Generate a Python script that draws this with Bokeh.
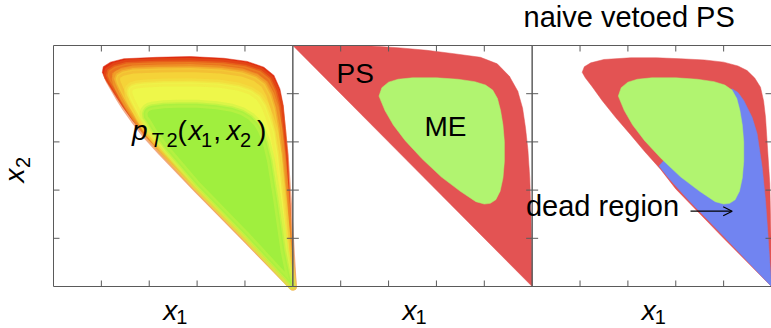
import numpy as np
from bokeh.plotting import figure
from bokeh.models import Arrow, OpenHead
from bokeh.core.properties import value
from bokeh.embed import file_html
from bokeh.resources import INLINE

# ---------------- data (panel-local coordinates, 0..1) ----------------
TICKS = [0.2, 0.4, 0.6, 0.8]
TITLE = "naive vetoed PS"

# outer boundary of the p_T2 region
OUT_X = [1.000, 0.800, 0.600, 0.450, 0.380, 0.330, 0.290, 0.260, 0.235, 0.215, 0.204, 0.208, 0.238,
         0.294, 0.433, 0.572, 0.712, 0.809, 0.879, 0.921, 0.946, 0.960, 0.969, 0.979, 0.988, 0.996]
OUT_Y = [0.000, 0.200, 0.402, 0.555, 0.628, 0.690, 0.745, 0.790, 0.830, 0.862, 0.889, 0.912, 0.931,
         0.945, 0.951, 0.954, 0.947, 0.934, 0.910, 0.876, 0.820, 0.751, 0.654, 0.544, 0.357, 0.149]
# red -> orange contour
ORG_X = [1.000, 0.800, 0.600, 0.452, 0.385, 0.338, 0.300, 0.273, 0.252, 0.235, 0.226, 0.230, 0.255,
         0.305, 0.433, 0.572, 0.708, 0.800, 0.864, 0.903, 0.928, 0.944, 0.955, 0.966, 0.979, 0.991]
ORG_Y = [0.000, 0.203, 0.405, 0.558, 0.631, 0.692, 0.745, 0.788, 0.825, 0.854, 0.876, 0.895, 0.912,
         0.925, 0.930, 0.932, 0.926, 0.914, 0.893, 0.862, 0.810, 0.748, 0.654, 0.544, 0.357, 0.149]
# orange -> yellow contour
YLO_X = [1.000, 0.800, 0.600, 0.455, 0.390, 0.348, 0.315, 0.292, 0.276, 0.265, 0.260, 0.266, 0.288,
         0.330, 0.440, 0.572, 0.700, 0.788, 0.845, 0.882, 0.906, 0.924, 0.940, 0.953, 0.970, 0.986]
YLO_Y = [0.000, 0.206, 0.408, 0.561, 0.635, 0.695, 0.745, 0.785, 0.818, 0.843, 0.862, 0.878, 0.891,
         0.900, 0.905, 0.907, 0.900, 0.888, 0.868, 0.840, 0.796, 0.740, 0.654, 0.544, 0.357, 0.149]
# bright yellow contour
YEL_X = [1.000, 0.800, 0.600, 0.460, 0.398, 0.362, 0.337, 0.322, 0.314, 0.312, 0.316, 0.326, 0.345,
         0.380, 0.460, 0.575, 0.690, 0.772, 0.825, 0.860, 0.884, 0.902, 0.922, 0.938, 0.958, 0.979]
YEL_Y = [0.000, 0.210, 0.413, 0.566, 0.640, 0.698, 0.745, 0.775, 0.796, 0.812, 0.823, 0.832, 0.838,
         0.842, 0.846, 0.848, 0.842, 0.830, 0.812, 0.788, 0.752, 0.705, 0.640, 0.544, 0.357, 0.149]
# green core
GRN_X = [0.995, 0.800, 0.600, 0.468, 0.414, 0.390, 0.378, 0.376, 0.380, 0.388, 0.398, 0.412, 0.430,
         0.460, 0.520, 0.600, 0.680, 0.745, 0.792, 0.826, 0.851, 0.870, 0.890, 0.908, 0.935, 0.965]
GRN_Y = [0.006, 0.216, 0.420, 0.573, 0.645, 0.685, 0.700, 0.718, 0.730, 0.740, 0.746, 0.750, 0.752,
         0.756, 0.758, 0.758, 0.752, 0.742, 0.726, 0.705, 0.680, 0.648, 0.600, 0.525, 0.357, 0.149]

# parton shower region (closed by the x1 + x2 = 1 diagonal)
PS_X = [0.000, 0.300, 0.450, 0.560, 0.673, 0.784, 0.854, 0.905, 0.940, 0.960, 0.972, 0.982, 0.990, 0.995, 0.998, 1.000]
PS_Y = [1.000, 1.000, 0.990, 0.980, 0.966, 0.951, 0.924, 0.872, 0.810, 0.740, 0.660, 0.570, 0.450, 0.300, 0.150, 0.000]

# matrix element region
ME_X = [0.360, 0.372, 0.400, 0.440, 0.500, 0.600, 0.690, 0.760, 0.805, 0.835, 0.855, 0.868, 0.878, 0.884,
        0.884, 0.878, 0.866, 0.848, 0.825, 0.800, 0.765, 0.700, 0.620, 0.540, 0.470, 0.420, 0.385]
ME_Y = [0.790, 0.825, 0.848, 0.860, 0.866, 0.866, 0.860, 0.850, 0.836, 0.815, 0.780, 0.730, 0.670, 0.600,
        0.520, 0.450, 0.395, 0.360, 0.345, 0.342, 0.352, 0.395, 0.455, 0.530, 0.605, 0.670, 0.730]

# naive vetoed PS region (outer boundary)
VETO_X = [1.000, 0.800, 0.600, 0.536, 0.470, 0.411, 0.350, 0.292, 0.250, 0.222, 0.209, 0.218, 0.245, 0.300,
          0.411, 0.520, 0.620, 0.720, 0.800, 0.860, 0.898, 0.930, 0.954, 0.967, 0.975, 0.984, 0.993, 0.998]
VETO_Y = [0.000, 0.200, 0.405, 0.487, 0.560, 0.630, 0.700, 0.772, 0.830, 0.866, 0.889, 0.912, 0.928, 0.942,
          0.949, 0.949, 0.945, 0.940, 0.931, 0.915, 0.896, 0.865, 0.827, 0.770, 0.702, 0.564, 0.426, 0.200]

# dead region (partly hidden under the ME region)
DEAD_X = [0.800, 0.836, 0.860, 0.884, 0.919, 0.940, 0.961, 0.975, 0.985, 0.993, 1.000, 0.800, 0.650, 0.570, 0.530]
DEAD_Y = [0.800, 0.820, 0.805, 0.772, 0.702, 0.634, 0.495, 0.357, 0.219, 0.100, 0.000, 0.208, 0.362, 0.450, 0.500]

# ---------------- styles ----------------
FRAME = "#5a5a5a"
PS_RED = "#e35353"
ME_GREEN = "#b1f470"
DEAD_BLUE = "#7184f1"
GRAD = ["#df2c10", "#ee8a22", "#f5d338", "#eef74a", "#a0ef3e"]
FONT = "Liberation Sans"
BIG = 28
WIDE = 29
SUB = 20
BASELINE_FIX = 0.375   # SVG text sits this fraction of the font size below the requested baseline

W, H = 771, 328
L, T, B = 53, 45, 42              # frame margins of the panels (pixels)
PPU_X = (W - L) / 3.0             # pixels per panel unit, horizontally
PPU_Y = float(H - T - B)          # pixels per panel unit, vertically


def mix(c1, c2):
    a = [int(c1[i:i + 2], 16) for i in (1, 3, 5)]
    b = [int(c2[i:i + 2], 16) for i in (1, 3, 5)]
    return "#%02x%02x%02x" % tuple((x + y) // 2 for x, y in zip(a, b))


p = figure(width=W, height=H,
           x_range=(-L / PPU_X, 3.0), y_range=(-B / PPU_Y, 1.0 + T / PPU_Y),
           output_backend="svg", toolbar_location=None,
           x_axis_type=None, y_axis_type=None,
           min_border_left=0, min_border_right=0, min_border_top=0, min_border_bottom=0)
p.outline_line_color = None
p.background_fill_color = "white"
p.border_fill_color = "white"

# ---------------- panel 1: p_T2 density ----------------
contours = [(OUT_X, OUT_Y), (ORG_X, ORG_Y), (YLO_X, YLO_Y), (YEL_X, YEL_Y), (GRN_X, GRN_Y)]
for k, (cx, cy) in enumerate(contours):
    if k == 0:
        p.patch(cx, cy, fill_color=GRAD[0], line_color=GRAD[0], line_width=0.5)
    else:
        p.patch(cx, cy, fill_color=GRAD[k], line_color=mix(GRAD[k - 1], GRAD[k]),
                line_width=8, line_alpha=0.5, line_join="round")
        p.patch(cx, cy, fill_color=None, line_color=GRAD[k],
                line_width=3, line_alpha=0.4, line_join="round")

# ---------------- panel 2: PS and ME ----------------
off2 = 1.0
p.patch(np.array(PS_X) + off2, PS_Y, fill_color=PS_RED, line_color=PS_RED, line_width=0.5)
p.patch(np.array(ME_X) + off2, ME_Y, fill_color=ME_GREEN, line_color=ME_GREEN, line_width=0.5)

# ---------------- panel 3: naive vetoed PS ----------------
off3 = 2.0
p.patch(np.array(VETO_X) + off3, VETO_Y, fill_color=PS_RED, line_color=PS_RED, line_width=0.5)
p.patch(np.array(DEAD_X) + off3, DEAD_Y, fill_color=DEAD_BLUE, line_color=DEAD_BLUE, line_width=0.5)
p.patch(np.array(ME_X) + off3, ME_Y, fill_color=ME_GREEN, line_color=ME_GREEN, line_width=0.5)

# ---------------- panel frames and inward ticks ----------------
p.quad(left=[0, 1, 2], right=[1, 2, 3], bottom=[0, 0, 0], top=[1, 1, 1],
       fill_color=None, line_color=FRAME, line_width=1)

tlx = 6.0 / PPU_X
tly = 6.0 / PPU_Y
xt = [t + i for i in range(3) for t in TICKS]
n = len(xt)
p.segment(x0=xt, y0=[0] * n, x1=xt, y1=[tly] * n, line_color=FRAME, line_width=1)
p.segment(x0=xt, y0=[1] * n, x1=xt, y1=[1 - tly] * n, line_color=FRAME, line_width=1)
m = len(TICKS)
p.segment(x0=[0] * m, y0=TICKS, x1=[tlx] * m, y1=TICKS, line_color=FRAME, line_width=1)
p.segment(x0=[3] * m, y0=TICKS, x1=[3 - tlx] * m, y1=TICKS, line_color=FRAME, line_width=1)
for b in (1, 2):
    p.segment(x0=[b - tlx] * m, y0=TICKS, x1=[b + tlx] * m, y1=TICKS, line_color=FRAME, line_width=1)


# ---------------- texts ----------------
def txt(x, y, s, size=BIG, italic=False, dx=0.0, dy=0.0, rotated=False):
    """x, y in panel data units; dx, dy are pixel nudges (dy > 0 is up)."""
    fix = BASELINE_FIX * size
    if rotated:
        dx -= fix
    else:
        dy += fix
    p.text(x=[x + dx / PPU_X], y=[y + dy / PPU_Y], text=[s],
           text_font=value(FONT), text_font_size="%dpx" % size,
           text_font_style="italic" if italic else "normal",
           text_color="black", text_align="left", text_baseline="alphabetic",
           angle=np.pi / 2 if rotated else 0.0)


# x1 axis labels
for i in range(3):
    cx = i + 0.5
    txt(cx, -0.1432, "x", italic=True, dx=-10)
    txt(cx, -0.1432, "1", size=SUB, dx=3, dy=-3)

# x2 axis label (rotated)
txt(-0.117, 0.4315, "x", italic=True, rotated=True)
txt(-0.117, 0.4315, "2", size=SUB, dx=5, dy=14.5, rotated=True)

# p_T2(x1, x2)
ax, ay = 0.328, 0.603
pieces = [("p", BIG, True, 0, 0), ("T", SUB, True, 18.2, -6), ("2", SUB, False, 34.5, -6),
          ("(", BIG, False, 45.5, 0), ("x", BIG, True, 56.5, 0), ("1", SUB, False, 69, -6),
          (",", BIG, False, 81.3, 0), ("x", BIG, True, 94.5, 0), ("2", SUB, False, 108, -6),
          (")", BIG, False, 125, 0)]
for s, sz, it, dx, dy in pieces:
    txt(ax, ay, s, size=sz, italic=it, dx=dx, dy=dy)

# PS / ME labels
txt(1.1825, 0.841, "PS")
txt(1.550, 0.622, "ME")

# title of panel 3
txt(1.964, 1.0734, TITLE, size=WIDE)

# dead region + arrow
txt(1.974, 0.2876, "dead region", size=WIDE)
p.add_layout(Arrow(end=OpenHead(size=9, line_width=1.2, line_color="black"),
                   x_start=2.6616, y_start=0.3124, x_end=2.8358, y_end=0.3124,
                   line_width=1.2, line_color="black"))

open("out.html", "w").write(file_html(p, INLINE))
